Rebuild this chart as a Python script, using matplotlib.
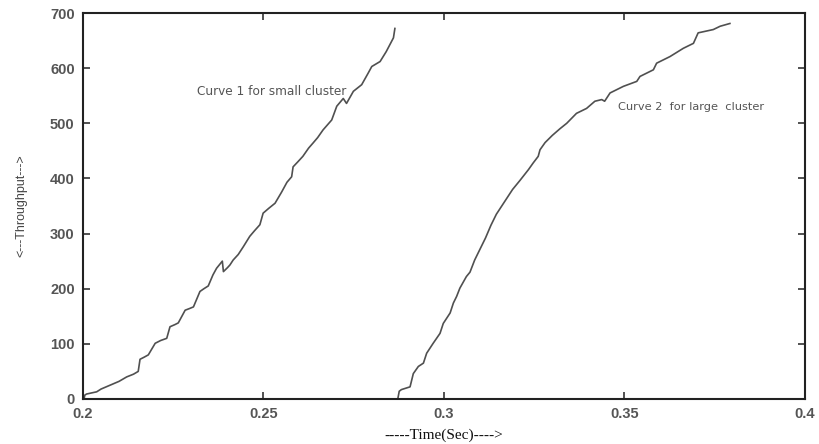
import matplotlib
matplotlib.use("Agg")
import matplotlib.pyplot as plt

# curve 1: small cluster
t_small = [0.2003, 0.2005, 0.2010, 0.2038, 0.2050, 0.2075, 0.2100, 0.2121, 0.2140, 0.2153,
           0.2158, 0.2170, 0.2181, 0.2200, 0.2215, 0.2232, 0.2241, 0.2255, 0.2264, 0.2283,
           0.2295, 0.2306, 0.2324, 0.2335, 0.2347, 0.2360, 0.2370, 0.2386, 0.2389, 0.2400,
           0.2407, 0.2416, 0.2430, 0.2444, 0.2462, 0.2475, 0.2490, 0.2499, 0.2515, 0.2532,
           0.2550, 0.2565, 0.2578, 0.2582, 0.2595, 0.2609, 0.2625, 0.2637, 0.2650, 0.2665,
           0.2689, 0.2703, 0.2721, 0.2730, 0.2749, 0.2772, 0.2790, 0.2800, 0.2823, 0.2840,
           0.2852, 0.2860, 0.2864]
thr_small = [0, 7, 9, 13, 18, 25, 32, 40, 45, 50,
             72, 76, 80, 101, 106, 110, 131, 135, 138, 161,
             164, 167, 195, 200, 205, 225, 237, 250, 231, 238,
             243, 252, 262, 276, 295, 305, 316, 337, 346, 355,
             375, 393, 403, 421, 430, 440, 455, 464, 474, 488,
             506, 531, 545, 536, 558, 570, 591, 603, 612, 630,
             645, 655, 672]

# curve 2: large cluster
t_large = [0.2872, 0.2876, 0.2882, 0.2906, 0.2915, 0.2929, 0.2943, 0.2952, 0.2970, 0.2989,
           0.2998, 0.3017, 0.3026, 0.3035, 0.3044, 0.3062, 0.3072, 0.3085, 0.3100, 0.3115,
           0.3130, 0.3145, 0.3160, 0.3175, 0.3190, 0.3210, 0.3234, 0.3247, 0.3261, 0.3266,
           0.3280, 0.3300, 0.3321, 0.3340, 0.3367, 0.3395, 0.3418, 0.3437, 0.3445, 0.3460,
           0.3497, 0.3534, 0.3543, 0.3580, 0.3589, 0.3626, 0.3663, 0.3691, 0.3704, 0.3746,
           0.3765, 0.3792]
thr_large = [0, 14, 17, 22, 46, 59, 65, 83, 101, 119,
             137, 156, 174, 186, 201, 222, 230, 252, 272, 292,
             315, 335, 350, 365, 380, 396, 416, 428, 440, 452,
             465, 478, 490, 500, 518, 527, 540, 543, 540, 555,
             567, 576, 585, 597, 609, 621, 636, 645, 664, 670,
             676, 681]

x_ticks = [0.2, 0.25, 0.3, 0.35, 0.4]
x_labels = ["0.2", "0.25", "0.3", "0.35", "0.4"]
y_ticks = [0, 100, 200, 300, 400, 500, 600, 700]

fig = plt.figure(figsize=(8.2, 4.44), dpi=100)
ax = fig.add_axes([0.1012, 0.1014, 0.8805, 0.8693])

ax.plot(t_small, thr_small, color="#505050", lw=1.2)
ax.plot(t_large, thr_large, color="#505050", lw=1.2)

ax.set_xlim(0.2, 0.4)
ax.set_ylim(0, 700)
ax.set_xticks(x_ticks)
ax.set_xticklabels(x_labels)
ax.set_yticks(y_ticks)
ax.tick_params(direction="in", length=5, width=1.2, top=True, right=True,
               colors="#333333", labelcolor="#555555", pad=6)
for lbl in ax.get_xticklabels() + ax.get_yticklabels():
    lbl.set_family("Liberation Sans")
    lbl.set_fontweight("bold")
    lbl.set_fontsize(10.5)
for sp in ax.spines.values():
    sp.set_linewidth(1.5)
    sp.set_color("#222222")

ax.text(0.2316, 557, "Curve 1 for small cluster", fontsize=8.7, color="#555555",
        family="DejaVu Sans", va="center")
ax.text(0.3482, 530, "Curve 2  for large  cluster", fontsize=8.2, color="#555555",
        family="DejaVu Sans", va="center")

ax.set_xlabel("-----Time(Sec)---->", family="Liberation Serif", fontsize=11,
              color="#111111", labelpad=5)
ax.set_ylabel("<---Throughput--->", family="Liberation Sans", fontsize=9,
              color="#444444", labelpad=16)

fig.savefig("out.png", dpi=100)
